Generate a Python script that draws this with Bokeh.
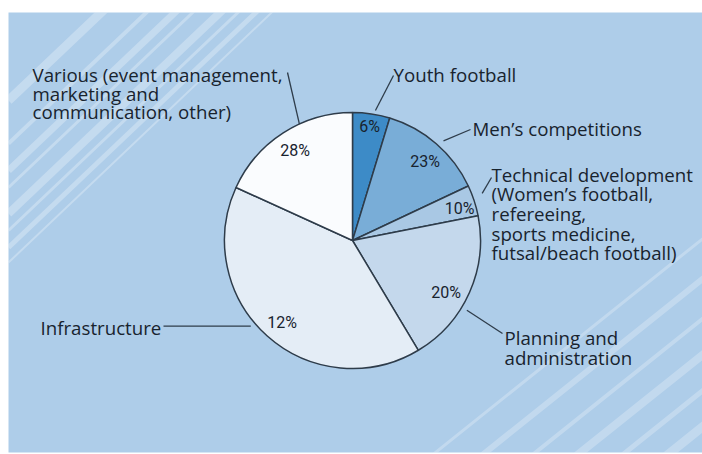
import math
from bokeh.plotting import figure
from bokeh.models import Range1d
from bokeh.core.properties import value
from bokeh.embed import file_html
from bokeh.resources import INLINE

# ---------------- data ----------------
categories = ["Youth football", "Men's competitions", "Technical development",
              "Planning and administration", "Infrastructure", "Various"]
# slice sizes as drawn in the picture (percent of the circle)
shares = [4.7, 13.3, 3.9, 19.5, 40.4, 18.2]
# percentage texts printed inside the slices
pct_labels = ["6%", "23%", "10%", "20%", "12%", "28%"]
label_lines = [
    ["Youth football"],
    ["Men\u2019s competitions"],
    ["Technical development", "(Women\u2019s football,", "refereeing,",
     "sports medicine,", "futsal/beach football)"],
    ["Planning and", "administration"],
    ["Infrastructure"],
    ["Various (event management,", "marketing and", "communication, other)"],
]
colors = ["#3d8bc7", "#79add7", "#a9c8e4", "#c4d8ec", "#e4edf6", "#fafcfe"]

# ---------------- layout ----------------
W, H = 702, 454
LEFT, TOP, BOTTOM = 8, 12, 2
CX, CY, R = 352, 240, 128          # page coordinates (y grows downward)
BG = "#aecde9"
INK = "#18232e"
EDGE = "#2e3c4a"

pct_polar = [(8.5, 115), (42.7, 107), (73.2, 112), (118.9, 107), (220.7, 108), (327.6, 107)]
leader_inner = [(10, 132), (42.4, 135), (70, 138), (121.4, 134), (229.9, 133), (335.5, 128)]
leader_outer = [(393, 75), (470, 129), (491, 177), (502, 333), (163, 325.7), (287, 72)]
label_anchor = [(393, 74), (472, 127.7), (491, 173.5), (504, 336.7), (40, 326.7), (32, 74.3)]
line_step = [0, 0, 19.7, 20.3, 0, 18.3]


def polar(angle_deg, r):
    a = math.radians(angle_deg)
    return CX + r * math.sin(a), -(CY - r * math.cos(a))


p = figure(width=W, height=H,
           x_range=Range1d(LEFT, W), y_range=Range1d(-(H - BOTTOM), -TOP),
           output_backend="svg", toolbar_location=None,
           x_axis_location=None, y_axis_location=None,
           min_border=0, min_border_left=LEFT, min_border_top=TOP,
           min_border_bottom=BOTTOM, min_border_right=0,
           border_fill_color="white", background_fill_color=BG,
           outline_line_color=None)
p.grid.visible = False

# decorative background stripes
tl_start = [100, 143, 170, 187, 213, 230, 247, 262]
tl_len = [110, 160, 190, 220, 240, 260, 270, 280]
tl_w = [9, 4, 7, 3, 8, 3, 5, 2]
x0s, y0s, x1s, y1s = [], [], [], []
for y0, ln in zip(tl_start, tl_len):
    x0s.append(LEFT); y0s.append(-y0)
    x1s.append(LEFT + ln); y1s.append(-(y0 - 0.95 * ln))
p.segment(x0=x0s, y0=y0s, x1=x1s, y1=y1s, line_color="white",
          line_alpha=0.28, line_width=tl_w, line_cap="butt")
br_start = [430, 480, 530, 575, 620, 665]
br_w = [3, 6, 4, 8, 5, 9]
x0s, y0s, x1s, y1s = [], [], [], []
for xb in br_start:
    x0s.append(xb); y0s.append(-456)
    x1s.append(xb + 330); y1s.append(-(456 - 0.8 * 330))
p.segment(x0=x0s, y0=y0s, x1=x1s, y1=y1s, line_color="white",
          line_alpha=0.25, line_width=br_w, line_cap="butt")

# pie
starts, ends = [], []
cum = 0.0
for s in shares:
    t0 = cum / 100 * 360
    cum += s
    t1 = cum / 100 * 360
    starts.append(math.radians(90 - t0))
    ends.append(math.radians(90 - t1))
p.wedge(x=CX, y=-CY, radius=R, start_angle=starts, end_angle=ends,
        direction="clock", fill_color=colors, line_color=EDGE, line_width=1.5)

# percentage labels
px, py = [], []
for a, r in pct_polar:
    x, y = polar(a, r)
    px.append(x); py.append(y)
p.text(x=px, y=py, text=pct_labels, text_align="center", text_baseline="middle",
       text_font=value("Roboto"), text_font_size="16px", text_color=INK)

# leader lines
lx0, ly0, lx1, ly1 = [], [], [], []
for (a, r), (ox, oy) in zip(leader_inner, leader_outer):
    x, y = polar(a, r)
    lx0.append(x); ly0.append(y); lx1.append(ox); ly1.append(-oy)
p.segment(x0=lx0, y0=ly0, x1=lx1, y1=ly1, line_color=EDGE, line_width=1.3)

# category labels
tx, ty, tt = [], [], []
for lines, (ax, ay), step in zip(label_lines, label_anchor, line_step):
    for k, t in enumerate(lines):
        tx.append(ax); ty.append(-(ay + k * step)); tt.append(t)
p.text(x=tx, y=ty, text=tt, text_align="left", text_baseline="alphabetic",
       text_font=value("Open Sans"), text_font_size="18.7px", text_color=INK)

open("out.html", "w").write(file_html(p, INLINE))
